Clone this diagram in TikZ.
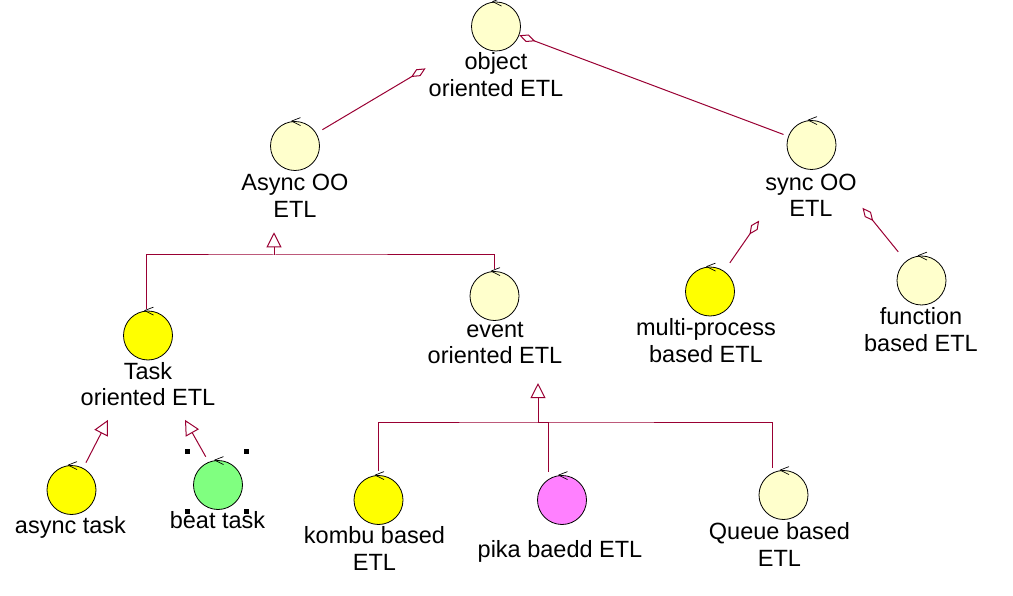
\documentclass[tikz,border=0pt]{standalone}
\usepackage{fontspec}
\setmainfont{Liberation Sans}
\usetikzlibrary{arrows.meta}
\definecolor{roseline}{RGB}{153,0,51}
\definecolor{rosecream}{RGB}{255,255,204}
\definecolor{roseyellow}{RGB}{255,255,0}
\definecolor{rosegreen}{RGB}{128,255,128}
\definecolor{rosepink}{RGB}{255,128,255}
\newcommand{\ctrlmark}[1]{\draw[markline] ([xshift=-3.5pt]#1.north) -- ++(9pt,3.5pt) ([xshift=-3.5pt]#1.north) -- ++(9pt,-4.5pt);}
\newcommand{\selhandle}[1]{\fill (#1) ++(-2.5pt,-2.5pt) rectangle ++(5pt,5pt);}
\begin{document}
\begin{tikzpicture}[x=1pt, y=-1pt,
    ctrl/.style={draw, circle, minimum size=49pt, inner sep=0pt, line width=0.8pt},
    lbl/.style={align=center, inner sep=0pt, anchor=north, font=\fontsize{23.5}{26.5}\selectfont, execute at begin node=\strut},
    agg/.style={draw=roseline, line width=1pt, -{Diamond[open, length=17pt, width=8pt]}},
    gen/.style={draw=roseline, line width=1pt},
    inh/.style={draw=roseline, line width=1pt, -{Triangle[open, length=15pt, width=15pt]}},
    markline/.style={draw, line width=0.7pt}]
    \useasboundingbox (0,0) rectangle (1013,596);

    \node[ctrl, fill=rosecream] (object) at (496,26.5) {};
    \node[lbl] (objectlbl) at (496,52.5) {object\\oriented ETL};
    \node[ctrl, fill=rosecream] (async) at (295,146) {};
    \node[lbl] (asynclbl) at (295,174) {Async OO\\ETL};
    \node[ctrl, fill=rosecream] (sync) at (811.5,145) {};
    \node[lbl] (synclbl) at (811,173.5) {sync OO\\ETL};
    \node[ctrl, fill=roseyellow] (task) at (148,335.5) {};
    \node[lbl] (tasklbl) at (148,362) {Task\\oriented ETL};
    \node[ctrl, fill=rosecream] (event) at (494.5,296) {};
    \node[lbl] (eventlbl) at (495,322) {event\\oriented ETL};
    \node[ctrl, fill=roseyellow] (multi) at (710,291.5) {};
    \node[lbl] (multilbl) at (706,318.5) {multi-process\\based ETL};
    \node[ctrl, fill=rosecream] (funcetl) at (921.5,280.5) {};
    \node[lbl] (funcetllbl) at (921,307.5) {function\\based ETL};
    \node[ctrl, fill=roseyellow] (asynctask) at (71.5,490) {};
    \node[lbl] (asynctasklbl) at (70.5,515) {async task};
    \node[ctrl, fill=rosegreen] (beattask) at (218,485) {};
    \node[lbl] (beattasklbl) at (217.5,510) {beat task};
    \node[ctrl, fill=roseyellow] (kombu) at (378.5,500) {};
    \node[lbl] (kombulbl) at (374.5,526.5) {kombu based\\ETL};
    \node[ctrl, fill=rosepink] (pika) at (562,500) {};
    \node[lbl] (pikalbl) at (560,539) {pika baedd ETL};
    \node[ctrl, fill=rosecream] (queue) at (783.5,495) {};
    \node[lbl] (queuelbl) at (779.5,522.5) {Queue based\\ETL};

    \ctrlmark{object}
    \ctrlmark{async}
    \ctrlmark{sync}
    \ctrlmark{task}
    \ctrlmark{event}
    \ctrlmark{multi}
    \ctrlmark{funcetl}
    \ctrlmark{asynctask}
    \ctrlmark{beattask}
    \ctrlmark{kombu}
    \ctrlmark{pika}
    \ctrlmark{queue}

    % aggregations
    \draw[agg, shorten <=7pt, shorten >=57pt] (async) -- (object);
    \draw[agg, shorten <=5pt] (sync) -- (object);
    \draw[agg, shorten <=10pt, shorten >=67pt] (multi) -- (sync);
    \draw[agg, shorten <=12pt, shorten >=56pt] (funcetl) -- (sync);

    % generalizations
    \coordinate (asyncbus) at (274,255);
    \draw[gen] ([xshift=-2pt,yshift=2pt]task.north) |- (asyncbus) -| ([yshift=2.5pt]event.north);
    \draw[inh, shorten >=7pt] (asyncbus) -- (asyncbus |- asynclbl.south);
    \coordinate (eventbus) at (538,422);
    \draw[gen] ([yshift=4.5pt]kombu.north) |- (eventbus) -| ([xshift=-11.5pt,yshift=2.5pt]queue.north);
    \draw[gen] ([xshift=-14pt,yshift=3.5pt]pika.north) |- (eventbus);
    \draw[inh, shorten >=11pt] (eventbus) -- (eventbus |- eventlbl.south);
    \draw[inh, shorten <=6pt] (asynctask.62) -- ([xshift=-40pt,yshift=-6pt]tasklbl.south);
    \draw[inh, shorten <=6pt] (beattask.112) -- ([xshift=37pt,yshift=-6pt]tasklbl.south);

    \selhandle{[shift={(-30.5pt,33.5pt)}]beattask.center}
    \selhandle{[shift={(28.5pt,33.5pt)}]beattask.center}
    \selhandle{[shift={(-30.5pt,-26.5pt)}]beattask.center}
    \selhandle{[shift={(28.5pt,-26.5pt)}]beattask.center}
\end{tikzpicture}
\end{document}
